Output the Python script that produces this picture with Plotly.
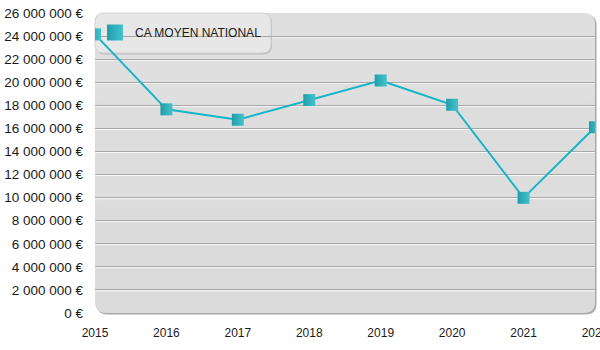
import plotly.graph_objects as go

years = [2015, 2016, 2017, 2018, 2019, 2020, 2021, 2022]
ca_moyen = [24150000, 17650000, 16750000, 18450000, 20150000, 18050000, 9980000, 16100000]
series_name = "CA MOYEN NATIONAL"
y_tick_values = [0, 2000000, 4000000, 6000000, 8000000, 10000000, 12000000, 14000000,
                 16000000, 18000000, 20000000, 22000000, 24000000, 26000000]
y_tick_labels = ["0 €", "2 000 000 €", "4 000 000 €", "6 000 000 €", "8 000 000 €",
                 "10 000 000 €", "12 000 000 €", "14 000 000 €", "16 000 000 €",
                 "18 000 000 €", "20 000 000 €", "22 000 000 €", "24 000 000 €",
                 "26 000 000 €"]
x_tick_labels = ["2015", "2016", "2017", "2018", "2019", "2020", "2021", "2022"]

W, H = 500, 300
ML, MR, MT, MB = 95, 5, 13, 37
FONT = "Arial"


def rrect(x0, y0, x1, y1, r):
    return (f"M {x0+r},{y0} L {x1-r},{y0} Q {x1},{y0} {x1},{y0+r} "
            f"L {x1},{y1-r} Q {x1},{y1} {x1-r},{y1} L {x0+r},{y1} "
            f"Q {x0},{y1} {x0},{y1-r} L {x0},{y0+r} Q {x0},{y0} {x0+r},{y0} Z")


def pshape(path, fill, line_color=None, line_width=0, layer="below"):
    return dict(type="path", xref="paper", yref="paper", xsizemode="pixel",
                ysizemode="pixel", xanchor=0, yanchor=0, path=path,
                fillcolor=fill, line=dict(color=line_color or fill, width=line_width),
                layer=layer)


shapes = []
# plot background with shadow
shapes.append(pshape(rrect(1.5, -1.5, W + 1.5, H - 1.5, 11), "#a9a9a9"))
shapes.append(pshape(rrect(0, 0, W, H, 11), "#dbdbdb"))
# lighter bands to mimic the vertical gradient
shapes.append(pshape(rrect(0, H * 0.35, W, H, 11), "rgba(255,255,255,0.07)"))
shapes.append(pshape(rrect(0, H * 0.7, W, H, 11), "rgba(255,255,255,0.07)"))
# white highlight under each gridline
for v in y_tick_values[1:-1]:
    shapes.append(dict(type="line", xref="paper", yref="y", ysizemode="pixel",
                       yanchor=v, x0=0, x1=1, y0=-1, y1=-1,
                       line=dict(color="rgba(255,255,255,0.85)", width=1),
                       layer="below"))
# legend box
LB_W, LB_H = 176, 40
shapes.append(pshape(rrect(1, H - LB_H - 1.5, LB_W + 1, H - 1.5, 9), "#bdbdbd",
                     layer="between"))
shapes.append(pshape(rrect(0, H - LB_H, LB_W, H, 9), "#e7e7e7", "#d2d2d2", 1,
                     layer="between"))

marker_style = dict(symbol="square", color="#1f9dab",
                    gradient=dict(type="horizontal", color="#45c3cc"),
                    line=dict(width=0))

fig = go.Figure()
fig.add_trace(go.Scatter(
    x=years, y=ca_moyen, name=series_name, mode="lines+markers",
    line=dict(color="#14b5c7", width=2),
    marker=dict(size=12, **marker_style), showlegend=False,
))
# legend entry (square only, as in the reference)
fig.add_trace(go.Scatter(
    x=[None], y=[None], name=series_name, mode="markers",
    marker=dict(size=19, **marker_style), showlegend=True,
))

fig.update_layout(
    width=600, height=350,
    margin=dict(l=ML, r=MR, t=MT, b=MB, autoexpand=False),
    paper_bgcolor="white", plot_bgcolor="rgba(0,0,0,0)",
    font=dict(family=FONT, size=12, color="#1a1a1a"),
    shapes=shapes,
    showlegend=True,
    legend=dict(x=0, y=1 - 5 / 300, xanchor="left", yanchor="top",
                bgcolor="rgba(0,0,0,0)", borderwidth=0,
                font=dict(family=FONT, size=12, color="#1a1a1a"),
                itemsizing="trace"),
    xaxis=dict(range=[2015, 2022], tickvals=years, ticktext=x_tick_labels,
               showgrid=False, zeroline=False, showline=False, ticks="",
               ticklabelstandoff=11, ticklabeloverflow="allow", automargin=False,
               fixedrange=True),
    yaxis=dict(range=[0, 26000000], tickvals=y_tick_values, ticktext=y_tick_labels,
               showgrid=True, gridcolor="#a8a8a8", gridwidth=1, zeroline=False,
               showline=False, ticks="", ticklabelstandoff=11, automargin=False,
               tickfont=dict(family=FONT, size=13.5, color="#1a1a1a"),
               fixedrange=True),
)

fig.write_html("out.html")
